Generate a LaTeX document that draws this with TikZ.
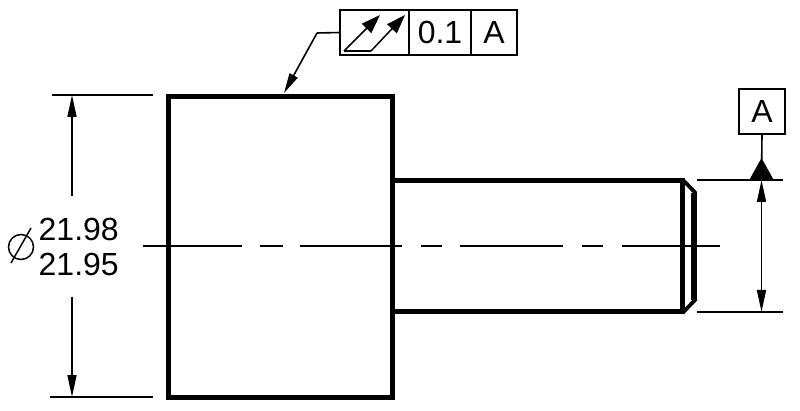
\documentclass[tikz,border=0pt]{standalone}
\usepackage{fontspec}
\setmainfont{Liberation Sans}
\usetikzlibrary{arrows.meta}
\tikzset{
  part/.style={draw=black,line width=5pt,miter limit=10},
  chamfer/.style={draw=black,line width=3.8pt},
  thin line/.style={draw=black,line width=1.6pt},
  dimhead/.style={draw=black,line width=1.6pt},
  fcf/.style={draw=black,line width=1.7pt,fill=white,minimum height=45pt,inner sep=0pt,outer sep=0pt,font=\fontsize{32}{32}\selectfont,anchor=north west},
  dimtext/.style={font=\fontsize{32}{32}\selectfont,inner sep=0pt},
  centre/.style={draw=black,line width=1.3pt}
}
\begin{document}
\begin{tikzpicture}[x=1pt,y=-1pt,>={Triangle[length=22pt,width=9pt]}]
\useasboundingbox (0,0) rectangle (800,411);
% part
\draw[part] (168,96.5) rectangle (392,397);
\draw[part] (392,181) -- (682.5,181) -- (682.5,312) -- (392,312);
\draw[part,line width=5.5pt] (694,193) -- (694,300);
\draw[chamfer] (682.5,179.5) -- (696,193.5);
\draw[chamfer] (682.5,313) -- (696,299);
% centre line
\foreach \a/\b in {143/242,260/283,300/402,421/442,460/563,582/603,622/720}
  \draw[centre] (\a,246) -- (\b,246);
% extension lines
\coordinate (tl1) at (52,95);
\coordinate (tl2) at (153,95);
\coordinate (bl1) at (50,397);
\coordinate (bl2) at (153,397);
\coordinate (tr1) at (697,180);
\coordinate (tr2) at (783,180);
\coordinate (br1) at (697,312);
\coordinate (br2) at (783,312);
\draw[thin line] (tl1) -- (tl2);
\draw[thin line] (bl1) -- (bl2);
\draw[thin line] (tr1) -- (tr2);
\draw[thin line] (br1) -- (br2);
% left dimension
\coordinate (ld1) at (72,95);
\coordinate (ld2) at (72,196);
\coordinate (ld3) at (72,297);
\coordinate (ld4) at (72,397);
\draw[dimhead,<-] (ld1) -- (ld2);
\draw[dimhead,->] (ld3) -- (ld4);
\node[dimtext,anchor=west] (upper) at (38.5,229) {21.98};
\node[dimtext,anchor=west] (lower) at (38.5,264) {21.95};
% diameter symbol
\node[circle,draw=black,line width=1.5pt,minimum size=25pt,inner sep=0pt] (dia) at (21,247) {};
\draw[line width=1.5pt] (11,263) -- (31,228);
% right dimension
\coordinate (rd1) at (761.5,180);
\coordinate (rd2) at (761.5,312);
\draw[dimhead,<->] (rd1) -- (rd2);
% datum
\node[draw=black,line width=1.7pt,minimum width=46pt,minimum height=45pt,inner sep=0pt,outer sep=0pt,font=\fontsize{32}{32}\selectfont] (datum) at (762,111.5) {A};
\coordinate (tri) at (761.5,180);
\draw[thin line] (datum.south) -- (tri);
\fill[black] (749,180.5) -- (761.5,158) -- (774,180.5) -- cycle;
% feature control frame
\node[fcf,minimum width=69pt] (f1) at (340,10) {};
\node[fcf,minimum width=62pt] (f2) at (f1.north east) {0.1};
\node[fcf,minimum width=46pt] (f3) at (f2.north east) {A};
% runout symbol
\coordinate (s0) at (344,51);
\coordinate (s1) at (371,51);
\coordinate (a1) at (380,15);
\coordinate (a2) at (405,15);
\draw[line width=1.5pt,-{Triangle[length=19pt,width=13pt]}] (s0) -- (a1);
\draw[line width=1.5pt,-{Triangle[length=19pt,width=13pt]}] (s1) -- (a2);
\draw[thin line] (s0) -- (s1);
% leader
\coordinate (knee) at (317,33);
\coordinate (tip) at (284,93);
\draw[thin line] (f1.west) -- (knee);
\draw[dimhead,-{Triangle[length=20pt,width=9pt]}] (knee) -- (tip);
\end{tikzpicture}
\end{document}
